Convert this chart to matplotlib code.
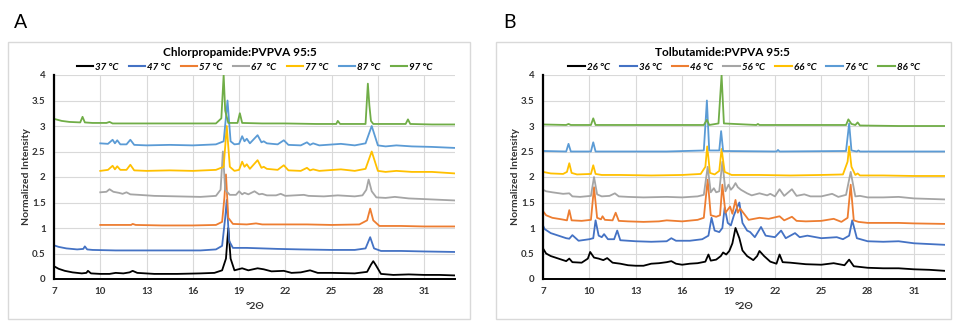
import matplotlib
matplotlib.use("Agg")
import matplotlib.pyplot as plt
from matplotlib.patches import Rectangle

plt.rcParams['font.family'] = ['Lato', 'DejaVu Sans']

# ---- colours (Excel default palette) ----
colors = ['#000000', '#4472C4', '#ED7D31', '#A5A5A5', '#FFC000', '#5B9BD5', '#70AD47']

# ---- Panel A: Chlorpropamide:PVPVA 95:5 ----
a_labels = ['37 °C', '47 °C', '57 °C', '67  °C', '77 °C', '87 °C', '97 °C']

a37_x = [7, 7.3, 7.7, 8.2, 8.8, 9.1, 9.2, 9.4, 10, 10.6, 11.0, 11.5, 11.9, 12.1, 12.4, 13.5, 15, 16.5,
         17.4, 17.9, 18.15, 18.3, 18.45, 18.7, 19.2, 19.6, 20.2, 20.6, 21.1, 21.9, 22.4, 23.0, 23.6,
         24.1, 25, 26.5, 27.3, 27.55, 27.7, 27.85, 28.2, 29, 30, 31, 32, 33]
a37_y = [0.25, 0.2, 0.16, 0.13, 0.11, 0.12, 0.16, 0.11, 0.1, 0.1, 0.12, 0.11, 0.13, 0.16, 0.12, 0.1, 0.1,
         0.11, 0.12, 0.17, 0.4, 1.0, 0.4, 0.17, 0.21, 0.17, 0.21, 0.19, 0.15, 0.16, 0.12, 0.13, 0.17,
         0.12, 0.12, 0.11, 0.14, 0.28, 0.35, 0.28, 0.1, 0.08, 0.09, 0.08, 0.08, 0.07]

a47_x = [7, 7.3, 7.8, 8.5, 8.9, 9.0, 9.15, 9.5, 11, 13, 15, 16.5, 17.5, 17.9, 18.1, 18.2, 18.35, 18.6,
         19.5, 20.5, 21.5, 23, 25, 26.5, 27.2, 27.5, 27.75, 28.2, 29.5, 31, 33]
a47_y = [0.66, 0.63, 0.6, 0.58, 0.59, 0.64, 0.58, 0.57, 0.56, 0.56, 0.56, 0.56, 0.58, 0.65, 1.2, 1.55, 0.75,
         0.61, 0.61, 0.6, 0.59, 0.58, 0.57, 0.57, 0.6, 0.82, 0.6, 0.55, 0.55, 0.54, 0.53]

a57_x = [10, 11, 12, 12.1, 12.3, 14, 16, 17.5, 17.9, 18.05, 18.15, 18.3, 18.6, 19.5, 20.1, 20.5, 22,
         23.4, 25, 26.8, 27.3, 27.5, 27.7, 28.1, 29.5, 31, 33]
a57_y = [1.06, 1.06, 1.06, 1.08, 1.06, 1.05, 1.05, 1.06, 1.12, 1.6, 2.05, 1.2, 1.08, 1.07, 1.09, 1.07, 1.07,
         1.07, 1.06, 1.07, 1.15, 1.38, 1.15, 1.04, 1.04, 1.03, 1.03]

a67_x = [10, 10.4, 10.6, 10.85, 11.2, 11.45, 11.7, 11.95, 12.5, 13.5, 15, 16.5, 17.5, 17.8, 17.95, 18.1,
         18.4, 18.8, 19.0, 19.2, 19.35, 19.6, 20.0, 20.3, 20.5, 20.8, 21.4, 21.7, 22.0, 23.2, 23.5, 24.5,
         25.4, 26.5, 27.0, 27.25, 27.4, 27.6, 27.9, 28.5, 29.1, 30, 31.5, 33]
a67_y = [1.7, 1.71, 1.76, 1.71, 1.69, 1.67, 1.7, 1.66, 1.65, 1.63, 1.62, 1.61, 1.63, 1.75, 2.5, 1.75,
         1.65, 1.65, 1.72, 1.66, 1.69, 1.66, 1.72, 1.66, 1.67, 1.64, 1.64, 1.67, 1.63, 1.65, 1.63, 1.62,
         1.64, 1.62, 1.64, 1.75, 1.95, 1.72, 1.6, 1.59, 1.61, 1.58, 1.56, 1.54]

a77_x = [10, 10.5, 10.8, 10.95, 11.1, 11.3, 11.7, 11.95, 12.2, 13, 14.5, 16, 17.5, 18.0, 18.2, 18.4,
         18.7, 19.0, 19.2, 19.35, 19.5, 19.7, 20.2, 20.45, 20.6, 20.8, 21.5, 21.9, 22.2, 23.0, 23.4, 23.6,
         23.8, 24.2, 25.6, 26.5, 27.2, 27.6, 28.0, 28.5, 29.2, 30.2, 31.5, 33]
a77_y = [2.12, 2.14, 2.22, 2.15, 2.21, 2.14, 2.14, 2.24, 2.13, 2.12, 2.13, 2.12, 2.14, 2.2, 3.0, 2.2,
         2.12, 2.14, 2.3, 2.2, 2.25, 2.16, 2.33, 2.18, 2.2, 2.16, 2.14, 2.23, 2.13, 2.12, 2.18, 2.13,
         2.15, 2.12, 2.15, 2.12, 2.16, 2.5, 2.12, 2.1, 2.12, 2.1, 2.1, 2.07]

a87_x = [10, 10.5, 10.8, 10.95, 11.1, 11.3, 11.7, 11.95, 12.2, 13, 14.5, 16, 17.5, 18.0, 18.25, 18.45,
         18.7, 19.0, 19.2, 19.35, 19.5, 19.7, 20.2, 20.45, 20.6, 20.8, 21.5, 21.9, 22.2, 23.0, 23.4, 23.6,
         23.8, 24.2, 25.6, 26.5, 27.2, 27.6, 28.0, 28.5, 29.2, 30.2, 31.5, 33]
a87_y = [2.66, 2.65, 2.73, 2.66, 2.72, 2.64, 2.64, 2.73, 2.63, 2.62, 2.63, 2.62, 2.64, 2.7, 3.5, 2.7,
         2.64, 2.65, 2.8, 2.7, 2.75, 2.66, 2.82, 2.68, 2.7, 2.66, 2.64, 2.72, 2.63, 2.62, 2.68, 2.63,
         2.66, 2.62, 2.65, 2.62, 2.66, 3.0, 2.62, 2.6, 2.62, 2.6, 2.59, 2.57]

a97_x = [7, 7.5, 8.0, 8.7, 8.85, 9.0, 9.5, 10.4, 10.6, 10.8, 12, 14, 16, 17.5, 17.85, 18.0, 18.1, 18.3,
         18.9, 19.05, 19.2, 20.5, 22, 24, 25.3, 25.4, 25.55, 27.2, 27.35, 27.45, 27.55, 27.7, 29.8, 29.95,
         30.1, 31.5, 33]
a97_y = [3.14, 3.1, 3.08, 3.07, 3.18, 3.07, 3.06, 3.06, 3.08, 3.05, 3.05, 3.05, 3.05, 3.05, 3.15, 4.0, 3.3,
         3.06, 3.06, 3.25, 3.06, 3.05, 3.05, 3.04, 3.04, 3.1, 3.04, 3.04, 3.83, 3.4, 3.1, 3.04, 3.04, 3.13,
         3.04, 3.03, 3.03]

a_x = [a37_x, a47_x, a57_x, a67_x, a77_x, a87_x, a97_x]
a_y = [a37_y, a47_y, a57_y, a67_y, a77_y, a87_y, a97_y]

# ---- Panel B: Tolbutamide:PVPVA 95:5 ----
b_labels = ['26 °C', '36 °C', '46 °C', '56 °C', '66 °C', '76 °C', '86 °C']

b26_x = [7, 7.2, 7.5, 8.0, 8.5, 8.7, 8.9, 9.5, 9.9, 10.05, 10.3, 10.6, 10.9, 11.15, 11.5, 12.0, 12.5,
         13.0, 13.5, 14.0, 14.5, 15.0, 15.3, 15.6, 16.0, 16.5, 17.0, 17.5, 17.7, 17.85, 18.2, 18.5, 18.65,
         18.85, 19.05, 19.25, 19.45, 19.7, 19.9, 20.2, 20.6, 20.85, 21.0, 21.3, 21.7, 22.1, 22.3, 22.5,
         23.0, 24.0, 25.0, 25.8, 26.5, 26.8, 27.1, 28.0, 29.0, 30.0, 31.0, 32.0, 33]
b26_y = [0.6, 0.5, 0.45, 0.4, 0.35, 0.4, 0.33, 0.32, 0.4, 0.53, 0.42, 0.4, 0.37, 0.41, 0.32, 0.3, 0.27,
         0.26, 0.26, 0.3, 0.31, 0.33, 0.35, 0.3, 0.28, 0.3, 0.31, 0.34, 0.48, 0.36, 0.38, 0.45, 0.52,
         0.48, 0.55, 0.7, 1.0, 0.8, 0.56, 0.45, 0.37, 0.45, 0.55, 0.45, 0.34, 0.3, 0.48, 0.33, 0.32,
         0.29, 0.28, 0.31, 0.27, 0.38, 0.25, 0.22, 0.21, 0.21, 0.19, 0.18, 0.16]

b36_x = [7, 7.1, 7.5, 8.0, 8.5, 8.7, 8.9, 9.3, 10.0, 10.25, 10.4, 10.6, 10.8, 10.95, 11.2, 11.6, 11.8,
         12.0, 12.5, 13.0, 14.0, 15.0, 15.3, 15.6, 16.5, 17.3, 17.7, 17.9, 18.1, 18.4, 18.6, 18.75,
         18.95, 19.15, 19.35, 19.55, 19.7, 19.9, 20.2, 20.4, 20.7, 21.1, 21.4, 22.0, 22.4, 22.7, 23.3,
         23.6, 24.1, 25.0, 26.0, 26.4, 26.8, 27.0, 27.3, 28.0, 29.0, 30.0, 31.0, 33]
b36_y = [1.05, 0.98, 0.9, 0.85, 0.8, 0.79, 0.86, 0.75, 0.78, 0.8, 1.15, 0.85, 0.82, 0.88, 0.78, 0.78, 0.95,
         0.76, 0.75, 0.74, 0.73, 0.74, 0.8, 0.75, 0.75, 0.78, 0.85, 1.2, 0.95, 0.92, 1.0, 1.4, 1.1, 1.05,
         1.25, 1.4, 1.5, 1.1, 0.95, 0.92, 0.82, 1.02, 0.85, 0.82, 0.95, 0.8, 0.9, 0.82, 0.85, 0.8, 0.82,
         0.78, 0.85, 1.15, 0.8, 0.74, 0.73, 0.74, 0.7, 0.67]

b46_x = [7, 7.2, 7.6, 8.2, 8.55, 8.7, 8.85, 9.5, 10.1, 10.3, 10.5, 10.75, 10.85, 11.0, 11.5, 11.7, 11.9,
         12.5, 13.5, 14.5, 15.0, 16.0, 17.0, 17.4, 17.65, 17.85, 18.2, 18.45, 18.6, 18.8, 19.1, 19.25,
         19.45, 19.6, 19.75, 20.0, 20.3, 21.0, 21.6, 22.3, 22.6, 23.1, 23.4, 24.0, 25.0, 25.8, 26.3,
         26.7, 26.9, 27.1, 27.4, 28.0, 29.0, 30.0, 31.0, 33]
b46_y = [1.33, 1.25, 1.2, 1.17, 1.15, 1.35, 1.15, 1.14, 1.16, 1.8, 1.2, 1.17, 1.23, 1.16, 1.15, 1.3, 1.14,
         1.13, 1.12, 1.13, 1.15, 1.13, 1.16, 1.2, 1.95, 1.25, 1.22, 1.25, 1.85, 1.3, 1.42, 1.28, 1.55,
         1.3, 1.38, 1.28, 1.16, 1.2, 1.18, 1.23, 1.15, 1.22, 1.14, 1.13, 1.14, 1.18, 1.12, 1.2, 1.85,
         1.15, 1.12, 1.1, 1.1, 1.1, 1.09, 1.08]

b56_x = [7, 7.2, 7.6, 8.3, 8.7, 8.9, 9.4, 10.1, 10.3, 10.5, 10.8, 11.3, 11.65, 11.9, 12.5, 13.5, 15.0,
         16.0, 17.0, 17.4, 17.65, 17.85, 18.05, 18.2, 18.4, 18.6, 18.8, 19.0, 19.15, 19.3, 19.45, 19.6,
         19.8, 20.2, 20.5, 21.0, 21.5, 21.7, 22.0, 22.3, 22.6, 23.1, 23.4, 23.9, 24.3, 25.0, 25.7, 26.1,
         26.6, 26.9, 27.2, 27.5, 28.0, 29.0, 30.0, 31.0, 33]
b56_y = [1.75, 1.72, 1.7, 1.67, 1.68, 1.62, 1.61, 1.63, 2.0, 1.66, 1.62, 1.63, 1.68, 1.62, 1.61, 1.6, 1.61,
         1.6, 1.62, 1.65, 2.2, 1.7, 1.78, 1.7, 1.72, 2.3, 1.72, 1.85, 1.75, 1.8, 1.88, 1.8, 1.75, 1.68,
         1.64, 1.68, 1.64, 1.67, 1.62, 1.76, 1.63, 1.76, 1.63, 1.66, 1.62, 1.62, 1.67, 1.61, 1.65, 2.1,
         1.62, 1.63, 1.6, 1.6, 1.61, 1.58, 1.56]

b66_x = [7, 7.5, 8.3, 8.55, 8.7, 8.85, 9.2, 10.1, 10.25, 10.4, 10.8, 12, 14, 16, 17.2, 17.5, 17.62, 17.8,
         18.1, 18.4, 18.55, 18.75, 19.2, 21, 23, 25, 26.4, 26.7, 26.8, 26.95, 27.2, 27.35, 27.5, 29, 31, 33]
b66_y = [2.1, 2.07, 2.06, 2.1, 2.27, 2.08, 2.05, 2.06, 2.23, 2.06, 2.04, 2.04, 2.03, 2.04, 2.06, 2.2, 2.6,
         2.08, 2.05, 2.12, 2.55, 2.1, 2.04, 2.04, 2.03, 2.04, 2.05, 2.3, 2.6, 2.2, 2.04, 2.07, 2.03,
         2.03, 2.02, 2.02]

b76_x = [7, 8.5, 8.65, 8.8, 10.1, 10.25, 10.4, 12, 15, 17.4, 17.6, 17.75, 18.4, 18.52, 18.65, 22.1, 22.2,
         22.3, 26.6, 26.8, 26.95, 27.3, 27.4, 27.5, 30, 33]
b76_y = [2.51, 2.5, 2.65, 2.5, 2.5, 2.68, 2.5, 2.5, 2.5, 2.52, 3.5, 2.52, 2.52, 2.9, 2.51, 2.5, 2.53, 2.5,
         2.51, 3.05, 2.52, 2.5, 2.52, 2.5, 2.5, 2.5]

b86_x = [7, 8.5, 8.65, 8.8, 10.1, 10.25, 10.4, 12, 15, 17.4, 17.6, 17.75, 18.35, 18.55, 18.7, 20.8, 20.9,
         21.0, 26.6, 26.75, 26.95, 27.2, 27.35, 27.5, 30, 33]
b86_y = [3.03, 3.02, 3.04, 3.02, 3.02, 3.15, 3.02, 3.02, 3.02, 3.02, 3.12, 3.02, 3.05, 4.0, 3.05, 3.02,
         3.04, 3.02, 3.02, 3.13, 3.04, 3.02, 3.07, 3.01, 3.0, 3.0]

b_x = [b26_x, b36_x, b46_x, b56_x, b66_x, b76_x, b86_x]
b_y = [b26_y, b36_y, b46_y, b56_y, b66_y, b76_y, b86_y]

x_ticks = [7, 10, 13, 16, 19, 22, 25, 28, 31]
y_ticks = [0, 0.5, 1, 1.5, 2, 2.5, 3, 3.5, 4]
y_ticklabels = ['0', '0.5', '1', '1.5', '2', '2.5', '3', '3.5', '4']

W, H = 960.0, 323.0


def draw_panel(fig, rect, xs, ys, labels, title, letter, box, letter_pos, title_x):
    # grey frame of the Excel chart object
    fig.patches.append(Rectangle((box[0], box[1]), box[2], box[3], transform=fig.transFigure,
                                 fill=False, edgecolor='#d9d9d9', linewidth=1.0))
    fig.text(letter_pos[0], letter_pos[1], letter, fontsize=14, ha='left', va='center')
    fig.text(title_x, 1 - 52 / H, title, fontsize=8.5, fontweight='bold', ha='center', va='center')

    ax = fig.add_axes(rect)
    for x, y, lab, c in zip(xs, ys, labels, colors):
        ax.plot(x, y, color=c, linewidth=1.3, label=lab)
    ax.set_xlim(7, 33)
    ax.set_ylim(0, 4)
    ax.set_xticks(x_ticks)
    ax.set_yticks(y_ticks)
    ax.set_yticklabels(y_ticklabels)
    ax.grid(True, color='#d9d9d9', linewidth=0.8)
    ax.set_axisbelow(True)
    for s in ['top', 'right']:
        ax.spines[s].set_visible(False)
    ax.spines['left'].set_linewidth(1.6)
    ax.spines['bottom'].set_linewidth(1.4)
    ax.tick_params(length=0, labelsize=7, pad=6, colors='#333333')
    for t in ax.get_xticklabels() + ax.get_yticklabels():
        t.set_fontweight('bold')
    ax.set_xlabel('°2Θ', fontsize=7.5, fontweight='bold', color='#333333', labelpad=4)
    ax.set_ylabel('Normalized Intensity', fontsize=7.5, fontweight='bold', color='#333333', labelpad=1)
    leg = ax.legend(loc='center', bbox_to_anchor=(0.5, 1 + 8 / 204), ncol=7, frameon=False,
                    handlelength=1.7, columnspacing=1.05, handletextpad=0.2, borderaxespad=0.0,
                    borderpad=0.0, prop={'size': 7, 'weight': 'bold', 'style': 'italic'})
    for h in leg.get_lines():
        h.set_linewidth(1.5)
    return ax


fig = plt.figure(figsize=(9.6, 3.23), dpi=100)

draw_panel(fig, [54 / W, 44 / H, 401 / W, 204 / H], a_x, a_y, a_labels,
           'Chlorpropamide:PVPVA 95:5', 'A',
           (8 / W, 4 / H, 462 / W, 277 / H), (14 / W, 1 - 23 / H), 240 / W)
draw_panel(fig, [543 / W, 44 / H, 402 / W, 204 / H], b_x, b_y, b_labels,
           'Tolbutamide:PVPVA 95:5', 'B',
           (496 / W, 4 / H, 455 / W, 277 / H), (503 / W, 1 - 23 / H), 722 / W)

fig.savefig('out.png', dpi=100)
